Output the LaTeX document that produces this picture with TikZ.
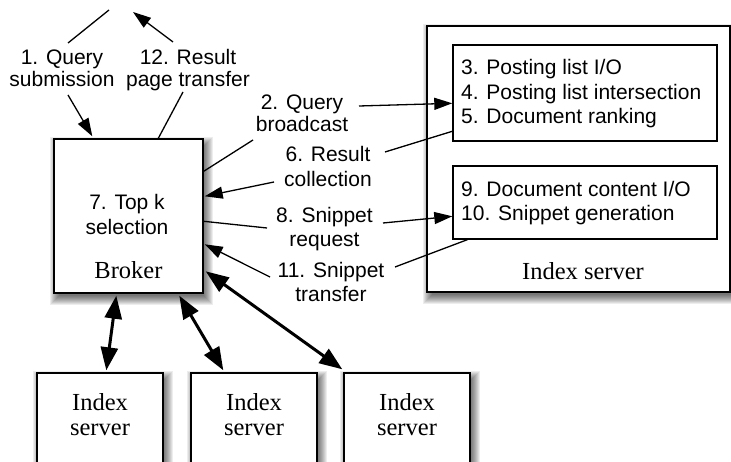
\documentclass[tikz,border=0pt]{standalone}
\usepackage{fontspec}
\setmainfont{Liberation Serif}
\setsansfont{Liberation Sans}
\usetikzlibrary{arrows.meta,calc,backgrounds}

\tikzset{
  x=1pt, y=-1pt,
  box/.style={draw, line width=1.4pt, fill=white, inner sep=0pt},
  lbl/.style={font=\sffamily\fontsize{21}{24}\selectfont, inner sep=0pt, anchor=base},
  itm/.style={font=\sffamily\fontsize{21}{24}\selectfont, inner sep=0pt, anchor=base west},
  srv/.style={font=\fontsize{24.5}{27}\selectfont, inner sep=0pt, anchor=base},
  link/.style={line width=1.3pt},
  msg/.style={link, -{Triangle[length=18pt,width=12pt]}},
  pipe/.style={line width=3pt, {Triangle[length=23pt,width=17pt]}-{Triangle[length=23pt,width=17pt]}},
}

% soft drop shadow behind a rectangular node
\newcommand\softshadow[1]{%
  \foreach \e in {-3,...,6}{%
    \fill[black, opacity=0.07]
      ($(#1.north west)+({3-\e},{5-\e})$) rectangle ($(#1.south east)+({3+\e},{5+\e})$);
  }%
}

\begin{document}
\begin{tikzpicture}
\useasboundingbox (0,0) rectangle (731,462);
\clip (0,0) rectangle (731,462);

% boxes
\node[box, minimum width=149pt, minimum height=154pt] (broker) at (128.5,216) {};
\node[box, minimum width=303pt, minimum height=266pt] (server) at (578.5,159) {};
\node[box, minimum width=264pt, minimum height=96pt] (box1) at (585,93) {};
\node[box, minimum width=264pt, minimum height=73pt] (box2) at (585,202.5) {};
\node[box, minimum width=126pt, minimum height=117pt] (s1) at (100,431.5) {};
\node[box, minimum width=126pt, minimum height=117pt] (s2) at (254,431.5) {};
\node[box, minimum width=126pt, minimum height=117pt] (s3) at (407,431.5) {};

\begin{scope}[on background layer]
  \fill[white] (0,0) rectangle (731,462);
  \softshadow{broker}
  \softshadow{server}
  \softshadow{s1}
  \softshadow{s2}
  \softshadow{s3}
\end{scope}

% texts inside the boxes
\node[lbl] (topk) at (127,210) {7. Top k};
\node[lbl] (sel) at (127,235) {selection};
\node[srv] (brk) at (128.5,279) {Broker};

\node[itm] (i3) at (461,75) {3. Posting list I/O};
\node[itm] (i4) at (461,99.5) {4. Posting list intersection};
\node[itm] (i5) at (461,124) {5. Document ranking};
\node[itm] (i9) at (461,197) {9. Document content I/O};
\node[itm] (i10) at (461,221) {10. Snippet generation};
\node[srv] (srvname) at (583,280) {Index server};

\foreach \n/\x in {s1/100, s2/254, s3/407}{
  \node[srv] (\n a) at (\x,410) {Index};
  \node[srv] (\n b) at (\x,435) {server};
}

% message labels
\node[lbl] (q1a) at (62,65) {1. Query};
\node[lbl] (q1b) at (62,87) {submission};
\node[lbl] (q12a) at (188,65) {12. Result};
\node[lbl] (q12b) at (188,87) {page transfer};
\node[lbl] (q2a) at (302,110) {2. Query};
\node[lbl] (q2b) at (302,132) {broadcast};
\node[lbl] (q6a) at (328,162) {6. Result};
\node[lbl] (q6b) at (328,187) {collection};
\node[lbl] (q8a) at (324.5,223) {8. Snippet};
\node[lbl] (q8b) at (324.5,247) {request};
\node[lbl] (q11a) at (331,278) {11. Snippet};
\node[lbl] (q11b) at (331,302) {transfer};

% free ends of the connectors
\coordinate (u1a) at (68,43);
\coordinate (u1b) at (109,10);
\coordinate (u1c) at (68,95);
\coordinate (u12a) at (173,42);
\coordinate (u12b) at (133,12);
\coordinate (u12c) at (183,92);
\coordinate (c2a) at (253,140);
\coordinate (c2b) at (359,106);
\coordinate (c6a) at (385,152);
\coordinate (c6b) at (274,182);
\coordinate (c8a) at (267,228);
\coordinate (c8b) at (383,223);
\coordinate (c11a) at (395,267);
\coordinate (c11b) at (270,277);

% query submission and result page
\draw[link] (u1a) -- (u1b);
\draw[msg] (u1c) -- ($(broker.north west)+(39,-2)$);
\draw[msg] (u12a) -- (u12b);
\draw[link] ($(broker.north west)+(105,0)$) -- (u12c);

% broadcast and collection
\draw[link] ($(broker.north east)+(0,33)$) -- (c2a);
\draw[msg] (c2b) -- ($(box1.north west)+(0,59)$);
\draw[link] ($(box1.north west)+(0,87)$) -- (c6a);
\draw[msg] (c6b) -- ($(broker.north east)+(1,58)$);

% snippets
\draw[link] ($(broker.north east)+(0,83)$) -- (c8a);
\draw[msg] (c8b) -- ($(box2.north west)+(0,51)$);
\draw[link] ($(box2.south west)+(15,0)$) -- (c11a);
\draw[msg] (c11b) -- ($(broker.north east)+(1,106)$);

% links to the index servers
\draw[pipe] ($(broker.south west)+(63,2)$) -- ($(s1.north west)+(70,-2)$);
\draw[pipe] ($(broker.south west)+(126,2)$) -- ($(s2.north west)+(33,-2)$);
\draw[pipe] ($(broker.north east)+(2,133)$) -- ($(s3.north west)+(-1,-3)$);
\end{tikzpicture}
\end{document}
